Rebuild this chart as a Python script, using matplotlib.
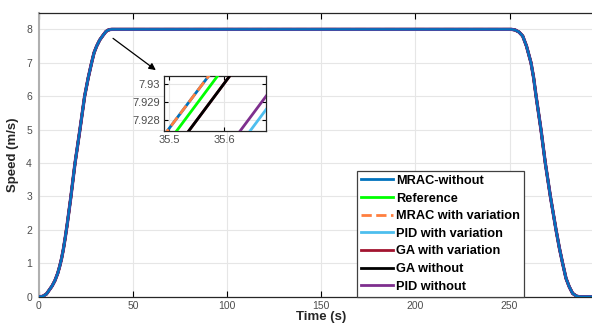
import matplotlib
matplotlib.use("Agg")
import matplotlib.pyplot as plt

plt.rcParams['font.family'] = ['Liberation Sans', 'DejaVu Sans']

# speed profile (all seven series overlap at this scale)
t_main = [0, 2, 4, 5.5, 7, 8.5, 10, 11, 12, 13, 14, 15, 16.9, 19.2, 21.8, 24.3, 26.2, 28.0,
          29.3, 30.7, 32.3, 33.8, 35.55, 36.5, 37.5, 38.6, 100, 200, 251, 253, 255,
          257, 259, 261.4, 262.8, 264.1, 266.7, 269.0, 271.7, 274.7, 276.5, 278.2,
          280.0, 281.7, 283.5, 285.5, 287, 300]
v_main = [0, 0.01, 0.08, 0.2, 0.32, 0.48, 0.7, 0.9, 1.13, 1.42, 1.77, 2.15, 2.95, 4.0, 5.0,
          6.0, 6.55, 7.0, 7.3, 7.5, 7.68, 7.8, 7.93, 7.97, 7.99, 8.0, 8.0, 8.0, 8.0, 7.98,
          7.92, 7.8, 7.5, 7.0, 6.55, 6.0, 5.0, 4.0, 3.0, 2.0, 1.45, 1.0,
          0.55, 0.3, 0.1, 0.02, 0, 0]

# zoomed window: time at which each series crosses the two speed levels below
v_zoom = [7.9270, 7.9310]
t_mrac_without = [35.488, 35.585]
t_reference = [35.505, 35.601]
t_mrac_var = [35.488, 35.585]
t_pid_var = [35.638, 35.734]
t_ga_var = [35.527, 35.623]
t_ga_without = [35.527, 35.623]
t_pid_without = [35.620, 35.716]

labels = ["MRAC-without", "Reference", "MRAC with variation", "PID with variation",
          "GA with variation", "GA without", "PID without"]
colors = ["#0072BD", "#00FF00", "#FF7F3F", "#4DBEEE", "#A2142F", "#000000", "#7E2F8E"]
styles = ["-", "-", "--", "-", "-", "-", "-"]
zoom_times = [t_mrac_without, t_reference, t_mrac_var, t_pid_var,
              t_ga_var, t_ga_without, t_pid_without]
# in the full view the blue/purple traces end up on top
main_z = [9, 3, 2, 4, 5, 6, 8]
main_lw = [1.6, 2, 2, 2, 2, 2, 2.4]
zoom_z = [9, 3, 10, 4, 5, 6, 7]

fig = plt.figure(figsize=(5.92, 3.23), dpi=100)
ax = fig.add_axes([0.0657, 0.0814, 0.954, 0.8795])

for lab, c, ls, z, w in zip(labels, colors, styles, main_z, main_lw):
    ax.plot(t_main, v_main, color=c, linestyle=ls, lw=w, label=lab, zorder=z)

ax.set_xlim(0, 300)
ax.set_ylim(0, 8.5)
ax.set_xticks([0, 50, 100, 150, 200, 250])
ax.set_yticks(range(0, 9))
ax.grid(True, color="#e6e6e6", lw=0.8)
ax.set_axisbelow(True)
ax.tick_params(direction="in", top=True, right=True, length=4, width=0.8,
               labelsize=7.5, labelcolor="#4d4d4d", pad=3)
ax.tick_params(axis="y", length=0, pad=5)
for s in ["top", "bottom", "right"]:
    ax.spines[s].set_color("#262626")
    ax.spines[s].set_linewidth(0.9)
ax.spines["left"].set_color("#b0b0b0")
ax.spines["left"].set_linewidth(1.5)

ax.set_xlabel("Time (s)", fontsize=9.5, fontweight="bold", color="#262626")
ax.xaxis.set_label_coords(0.5, -0.052)
ax.set_ylabel("Speed (m/s)", fontsize=9.5, fontweight="bold", color="#262626")
ax.yaxis.set_label_coords(-0.036, 0.5)

# legend handles drawn plainly, with the true line widths
handles = [plt.Line2D([], [], color=c, linestyle=ls, lw=2) for c, ls in zip(colors, styles)]
leg = ax.legend(handles, labels, loc="lower left", bbox_to_anchor=(357 / 592, 26.5 / 323),
                bbox_transform=fig.transFigure, borderaxespad=0,
                prop={"weight": "bold", "size": 9.2}, handlelength=2.5,
                handletextpad=0.25, labelspacing=0.44, borderpad=0.3,
                fancybox=False, framealpha=1, edgecolor="#404040")
leg.get_frame().set_linewidth(0.9)
leg.set_zorder(20)

# arrow toward the zoomed window
ax.annotate("", xy=(63.3, 6.73), xytext=(38.2, 7.78),
            arrowprops=dict(arrowstyle="-|>", color="black", lw=0.9,
                            mutation_scale=10), zorder=15)

ins = fig.add_axes([164 / 592, 192.3 / 323, 101.7 / 592, 55 / 323])
for lab, c, ls, tz, z in zip(labels, colors, styles, zoom_times, zoom_z):
    ins.plot(tz, v_zoom, color=c, linestyle=ls, lw=2, zorder=z)
ins.set_xlim(35.491, 35.675)
ins.set_ylim(7.92738, 7.93047)
ins.set_xticks([35.5, 35.6])
ins.set_xticklabels(["35.5", "35.6"])
ins.set_yticks([7.928, 7.929, 7.93])
ins.set_yticklabels(["7.928", "7.929", "7.93"])
ins.grid(True, color="#e6e6e6", lw=0.8)
ins.tick_params(direction="in", top=True, right=True, length=3, width=0.8,
                labelsize=8, labelcolor="#4d4d4d", pad=3)
for s in ins.spines.values():
    s.set_color("#262626")
    s.set_linewidth(0.9)

fig.savefig("out.png", dpi=100)
